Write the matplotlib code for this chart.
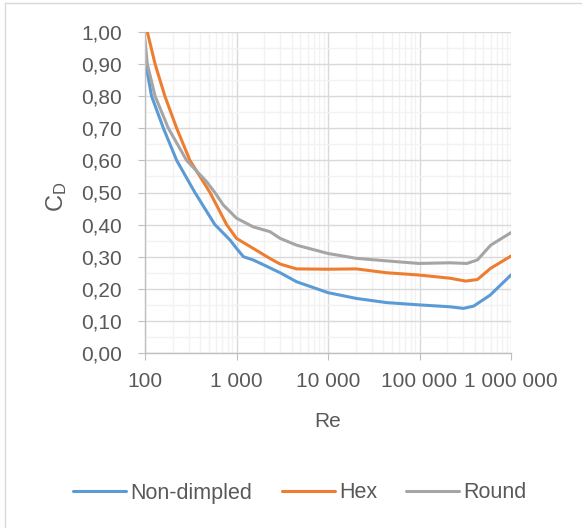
import matplotlib
matplotlib.use("Agg")
import matplotlib.pyplot as plt
from matplotlib.lines import Line2D
from matplotlib.ticker import FixedLocator, LogLocator, NullFormatter

plt.rcParams['font.family'] = ['Liberation Sans', 'DejaVu Sans']
plt.rcParams['mathtext.fontset'] = 'custom'
plt.rcParams['mathtext.rm'] = 'Liberation Sans'
plt.rcParams['mathtext.it'] = 'Liberation Sans'

# values
re_nd = [100, 102, 118, 159, 222, 351, 580, 850, 1000, 1190, 1520, 2000, 3000, 4530,
         10000, 20400, 43700, 98000, 215000, 302000, 390000, 590000, 1000000]
cd_nd = [0.918, 0.90, 0.80, 0.70, 0.60, 0.50, 0.40, 0.352, 0.326, 0.30, 0.29, 0.274, 0.25, 0.222,
         0.188, 0.170, 0.157, 0.150, 0.144, 0.139, 0.146, 0.18, 0.243]

re_hex = [100, 129, 165, 222, 310, 513, 780, 1000, 1520, 2300, 3000, 4530,
          10000, 20400, 43700, 98000, 215000, 320000, 430000, 600000, 1000000]
cd_hex = [1.03, 0.90, 0.80, 0.70, 0.60, 0.50, 0.40, 0.357, 0.326, 0.295, 0.277, 0.262,
          0.261, 0.262, 0.250, 0.243, 0.233, 0.224, 0.229, 0.264, 0.302]

re_round = [100, 106, 129, 180, 285, 470, 580, 718, 1000, 1520, 2320, 3000, 4530,
            10000, 20400, 43700, 98000, 215000, 330000, 430000, 600000, 1000000]
cd_round = [0.975, 0.90, 0.80, 0.70, 0.60, 0.534, 0.50, 0.461, 0.42, 0.393, 0.378, 0.357, 0.336,
            0.310, 0.295, 0.287, 0.279, 0.281, 0.279, 0.290, 0.336, 0.375]

x_ticks = [100, 1000, 10000, 100000, 1000000]
x_labels = ['100', '1 000', '10 000', '100 000', '1 000 000']
y_ticks = [0.0, 0.1, 0.2, 0.3, 0.4, 0.5, 0.6, 0.7, 0.8, 0.9, 1.0]
y_labels = ['0,00', '0,10', '0,20', '0,30', '0,40', '0,50', '0,60', '0,70', '0,80', '0,90', '1,00']

txt = '#595959'

fig = plt.figure(figsize=(5.82, 5.28), dpi=100)
ax = fig.add_axes([145 / 582, 1 - 353 / 528, 366 / 582, 321 / 528])

ax.plot(re_nd, cd_nd, color='#5B9BD5', lw=2.2, label='Non-dimpled', solid_capstyle='round')
ax.plot(re_hex, cd_hex, color='#ED7D31', lw=2.2, label='Hex', solid_capstyle='round')
ax.plot(re_round, cd_round, color='#A5A5A5', lw=2.2, label='Round', solid_capstyle='round')

ax.set_xscale('log')
ax.set_xlim(100, 1000000)
ax.set_ylim(0, 1.0)

ax.xaxis.set_major_locator(FixedLocator(x_ticks))
ax.set_xticklabels(x_labels)
ax.xaxis.set_minor_locator(LogLocator(base=10, subs=range(2, 10)))
ax.xaxis.set_minor_formatter(NullFormatter())
ax.set_yticks(y_ticks)
ax.set_yticklabels(y_labels)
ax.yaxis.set_minor_locator(FixedLocator([i * 0.1 + 0.05 for i in range(10)]))

ax.grid(which='major', color='#d9d9d9', lw=1.0)
ax.grid(which='minor', color='#f2f2f2', lw=1.0)
ax.set_axisbelow(True)

for s in ['top', 'right']:
    ax.spines[s].set_visible(False)
for s in ['left', 'bottom']:
    ax.spines[s].set_color('#bfbfbf')
    ax.spines[s].set_linewidth(1.0)

ax.tick_params(which='major', length=5, color='#bfbfbf', labelsize=15, labelcolor=txt)
ax.tick_params(axis='y', which='major', pad=11.5)
ax.tick_params(axis='x', which='major', pad=9)
ax.tick_params(which='minor', length=0)

ax.set_xlabel('Re', fontsize=15, color=txt, va='center')
ax.xaxis.set_label_coords(0.5, (353 - 421.7) / 321)
ax.set_ylabel(r'C$_\mathrm{D}$', fontsize=17, color=txt, va='center')
ax.yaxis.set_label_coords((57 - 145) / 366, (353 - 197) / 321)

fig.legend(loc='center', bbox_to_anchor=(300 / 582, 1 - 493 / 528), ncol=3, frameon=False,
           fontsize=15.5, labelcolor=txt, handlelength=2.47, handletextpad=0.2,
           columnspacing=1.35)

# chart-area border (only the left and top edges are visible in the reference)
fig.add_artist(Line2D([4.5 / 582, 4.5 / 582], [0, 1 - 3 / 528], transform=fig.transFigure,
                      color='#d9d9d9', lw=1.0))
fig.add_artist(Line2D([4.5 / 582, 1], [1 - 3 / 528, 1 - 3 / 528], transform=fig.transFigure,
                      color='#d9d9d9', lw=1.0))

fig.savefig('out.png', dpi=100)
